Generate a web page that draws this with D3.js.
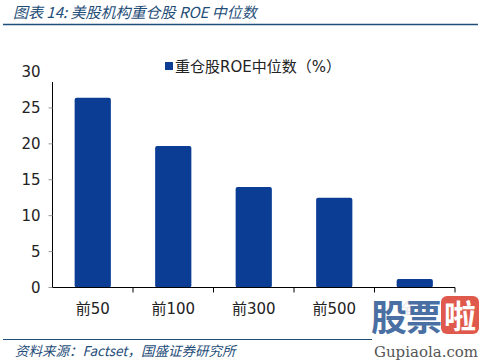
<!DOCTYPE html>
<html><head><meta charset="utf-8">
<script src="https://cdn.jsdelivr.net/npm/d3@7/dist/d3.min.js"></script>
<style>body{margin:0;background:#fff}svg{display:block}</style>
</head><body>
<script>
const categories = ["前50","前100","前300","前500","全部"];
const values = [26.4, 19.7, 14.0, 12.5, 1.2];
const yTicks = [0,5,10,15,20,25,30];
const seriesName = "重仓股ROE中位数（%）";
const title = "图表 14:  美股机构重仓股 ROE 中位数";
const source = "资料来源：Factset，国盛证券研究所";

const W=484,H=361;
const svg=d3.select("body").append("svg").attr("width",W).attr("height",H);
const cjk="'Noto Sans CJK SC','Noto Sans',sans-serif";
const latin="Tahoma,'DejaVu Sans','Noto Sans CJK SC',sans-serif";
const navy="#1f4e79";

// title
svg.append("text").attr("x",13).attr("y",18).attr("font-family",cjk).attr("font-style","italic")
  .attr("font-size",15).attr("fill",navy).text(title);
svg.append("line").attr("x1",3).attr("x2",478).attr("y1",24.5).attr("y2",24.5).attr("stroke",navy).attr("stroke-width",1.5);

const x=d3.scaleBand().domain(categories).range([52.5,455]).paddingInner(0.55).paddingOuter(0.275);
const y=d3.scaleLinear().domain([0,30]).range([287.5,72]);

// bars
svg.selectAll("rect.bar").data(values).enter().append("rect").attr("class","bar")
  .attr("x",(d,i)=>x(categories[i])).attr("width",x.bandwidth())
  .attr("y",d=>y(d)).attr("height",d=>y(0)-y(d)).attr("rx",2).attr("fill","#0b3d95");

// y axis
const ya=svg.append("g").attr("transform","translate(52.5,0)");
ya.append("line").attr("x1",0).attr("x2",0).attr("y1",y(28.6)).attr("y2",y(0)).attr("stroke","#000");
ya.selectAll("line.t").data(yTicks.filter(t=>t<30)).enter().append("line").attr("class","t")
  .attr("x1",-4).attr("x2",0).attr("y1",d=>y(d)).attr("y2",d=>y(d)).attr("stroke","#999");
ya.selectAll("text").data(yTicks).enter().append("text").attr("x",-12).attr("y",d=>y(d)).attr("dy","0.36em")
  .attr("text-anchor","end").attr("font-family",latin).attr("font-size",15).attr("fill","#222").text(d=>d);

// x axis
const xa=svg.append("g").attr("transform","translate(0,287.5)");
xa.append("line").attr("x1",52.5).attr("x2",455).attr("stroke","#000");
const step=x.step();
xa.selectAll("line.t").data(d3.range(1,6)).enter().append("line").attr("class","t")
  .attr("x1",d=>52.5+d*step).attr("x2",d=>52.5+d*step).attr("y1",0).attr("y2",5).attr("stroke","#000");
xa.selectAll("text").data(categories).enter().append("text")
  .attr("x",d=>x(d)+x.bandwidth()/2).attr("y",26).attr("text-anchor","middle")
  .attr("font-family",latin).attr("font-size",15).attr("fill",(d,i)=>i===4?"#e8e8e8":"#222").text(d=>d);

// legend
svg.append("rect").attr("x",165).attr("y",62).attr("width",8).attr("height",8).attr("fill","#0b3d95");
svg.append("text").attr("x",175).attr("y",72).attr("font-family",latin).attr("font-size",15).attr("fill","#222").text(seriesName);

// source
svg.append("line").attr("x1",3).attr("x2",372).attr("y1",339.5).attr("y2",339.5).attr("stroke",navy).attr("stroke-width",1.2);
svg.append("text").attr("x",15).attr("y",356).attr("font-family",cjk).attr("font-style","italic")
  .attr("font-size",13.5).attr("fill",navy).text(source);

// watermark
svg.append("text").attr("x",371).attr("y",331).attr("font-family",cjk).attr("font-weight","bold")
  .attr("font-size",36).attr("fill","#4a6fa3").attr("letter-spacing",-1).text("股票");
svg.append("rect").attr("x",441).attr("y",296).attr("width",38).attr("height",38).attr("rx",6).attr("fill","#df5a4c");
svg.append("text").attr("x",460).attr("y",328).attr("text-anchor","middle").attr("font-family",cjk).attr("font-weight","bold")
  .attr("font-size",32).attr("fill","#fff").text("啦");
svg.append("text").attr("x",426).attr("y",357).attr("text-anchor","middle").attr("font-family","'DejaVu Serif',serif")
  .attr("font-size",15).attr("fill","#555").text("Gupiaola.com");
</script>
</body></html>
